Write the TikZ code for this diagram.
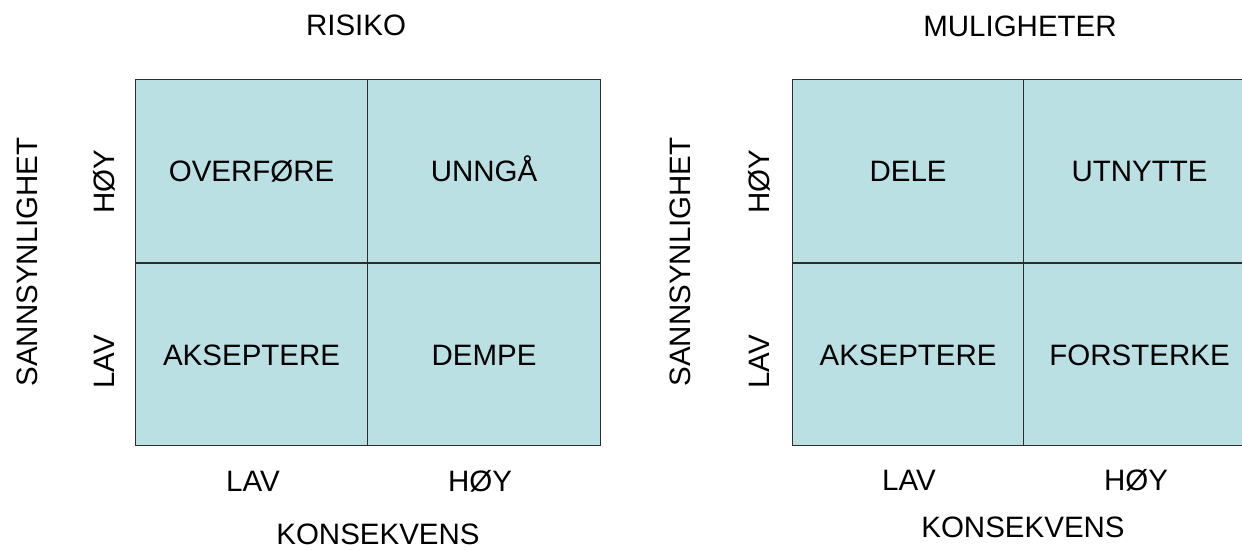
\documentclass[tikz,border=0pt]{standalone}
\usepackage{fontspec}
\setmainfont{Liberation Sans}
\definecolor{cellfill}{RGB}{186,224,228}
\definecolor{cellline}{RGB}{45,45,45}
\begin{document}
\begin{tikzpicture}[x=1pt,y=-1pt,
  lbl/.style={inner sep=0pt, font=\fontsize{29.5}{30}\selectfont, text height=21.1pt, text depth=0pt},
  cell/.style={lbl, draw=cellline, fill=cellfill, line width=1.2pt,
    minimum width=#1, minimum height=183pt, anchor=north west},
  vlbl/.style={lbl, rotate=90}]
\useasboundingbox (0,0) rectangle (1242,549);
\clip (0,0) rectangle (1242,549);

% Risk matrix
\node[lbl] (rtitle) at (356,25) {RISIKO};
\node[cell=232pt] (r11) at (135,79) {OVERFØRE};
\node[cell=233pt] (r12) at (367,79) {UNNGÅ};
\node[cell=232pt, minimum height=182pt] (r21) at (135,263) {AKSEPTERE};
\node[cell=233pt, minimum height=182pt] (r22) at (367,263) {DEMPE};
\node[vlbl] (rylab) at (27,262) {SANNSYNLIGHET};
\node[vlbl] (ryhi) at (104,182) {HØY};
\node[vlbl] (rylo) at (104,362) {LAV};
\node[lbl] (rxlo) at (253,481) {LAV};
\node[lbl] (rxhi) at (480,481) {HØY};
\node[lbl] (rxlab) at (378,534) {KONSEKVENS};

% Opportunity matrix
\node[lbl] (mtitle) at (1020,26) {MULIGHETER};
\node[cell=231pt] (m11) at (792,79) {DELE};
\node[cell=232pt] (m12) at (1023,79) {UTNYTTE};
\node[cell=231pt, minimum height=182pt] (m21) at (792,263) {AKSEPTERE};
\node[cell=232pt, minimum height=182pt] (m22) at (1023,263) {FORSTERKE};
\node[vlbl] (mylab) at (680,262) {SANNSYNLIGHET};
\node[vlbl] (myhi) at (759,182) {HØY};
\node[vlbl] (mylo) at (759,362) {LAV};
\node[lbl] (mxlo) at (909,480) {LAV};
\node[lbl] (mxhi) at (1136,480) {HØY};
\node[lbl] (mxlab) at (1023,527) {KONSEKVENS};
\end{tikzpicture}
\end{document}
